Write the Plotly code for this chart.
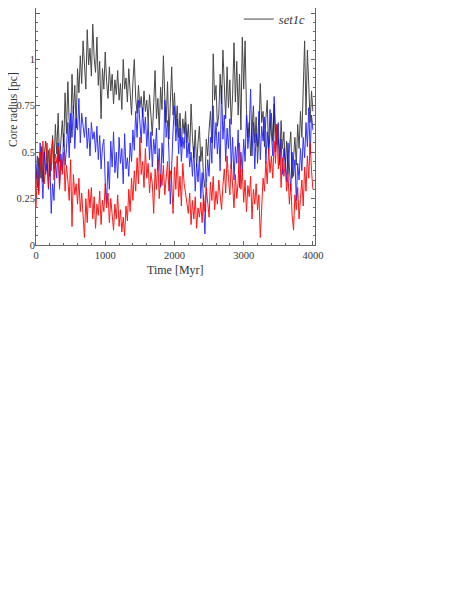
"""
Core radius evolution -- three runs over 4 Gyr.
"""
import plotly.graph_objects as go

time_myr = list(range(0, 4020, 20))

black_rc = [
    0.40, 0.31, 0.47, 0.36, 0.53, 0.34, 0.49, 0.56, 0.40, 0.51,
    0.37, 0.47, 0.59, 0.41, 0.65, 0.49, 0.71, 0.45, 0.57, 0.67,
    0.53, 0.82, 0.60, 0.88, 0.66, 0.55, 0.92, 0.71, 0.86, 0.63,
    0.95, 0.82, 1.02, 0.87, 1.10, 0.93, 0.84, 1.16, 0.97, 1.06,
    0.91, 1.19, 1.01, 0.93, 1.12, 0.86, 0.99, 0.68, 0.95, 0.84,
    1.04, 0.88, 0.79, 0.96, 0.83, 0.92, 0.76, 0.89, 0.81, 0.94,
    0.78, 0.87, 0.73, 1.00, 0.84, 0.90, 0.77, 0.95, 0.82, 0.70,
    0.88, 1.00, 0.79, 0.71, 0.86, 0.74, 0.80, 0.69, 0.83, 0.72,
    0.78, 0.66, 0.81, 0.70, 0.59, 0.76, 0.94, 0.68, 0.79, 0.62,
    0.85, 0.73, 1.02, 0.80, 0.66, 0.88, 0.57, 0.76, 0.96, 0.70,
    0.82, 0.64, 0.75, 0.58, 0.71, 0.53, 0.68, 0.60, 0.72, 0.55,
    0.65, 0.49, 0.76, 0.58, 0.47, 0.62, 0.42, 0.55, 0.64, 0.45,
    0.53, 0.36, 0.31, 0.57, 0.48, 0.62, 0.72, 0.55, 1.03, 0.78,
    0.86, 0.64, 0.70, 0.92, 0.76, 1.05, 0.83, 0.68, 0.96, 0.74,
    0.89, 0.65, 0.81, 1.09, 0.77, 0.99, 0.70, 0.92, 0.62, 1.12,
    0.84, 1.10, 0.73, 0.58, 0.66, 0.48, 0.62, 0.75, 0.55, 0.69,
    0.44, 0.60, 0.87, 0.66, 0.72, 0.53, 0.68, 0.78, 0.49, 0.63,
    0.71, 0.56, 0.76, 0.50, 0.65, 0.58, 0.45, 0.67, 0.52, 0.61,
    0.42, 0.56, 0.38, 0.52, 0.61, 0.36, 0.48, 0.58, 0.43, 0.65,
    0.52, 0.72, 0.58, 0.80, 1.10, 0.70, 1.05, 0.86, 0.66, 0.83,
    0.72,
]

blue_rc = [
    0.36, 0.48, 0.29, 0.55, 0.41, 0.25, 0.50, 0.38, 0.44, 0.30,
    0.46, 0.17, 0.33, 0.24, 0.45, 0.36, 0.55, 0.32, 0.49, 0.40,
    0.60, 0.43, 0.52, 0.66, 0.47, 0.71, 0.58, 0.75, 0.52, 0.68,
    0.62, 0.79, 0.55, 0.71, 0.64, 0.58, 0.69, 0.52, 0.63, 0.48,
    0.66, 0.57, 0.61, 0.50, 0.64, 0.46, 0.59, 0.41, 0.53, 0.57,
    0.34, 0.22, 0.45, 0.30, 0.56, 0.42, 0.61, 0.39, 0.50, 0.36,
    0.58, 0.44, 0.52, 0.33, 0.60, 0.41, 0.47, 0.37, 0.55, 0.45,
    0.62, 0.51, 0.72, 0.58, 0.78, 0.64, 0.55, 0.74, 0.60, 0.69,
    0.53, 0.66, 0.46, 0.61, 0.42, 0.57, 0.49, 0.63, 0.40, 0.52,
    0.31, 0.55, 0.44, 0.78, 0.58, 0.67, 0.50, 0.22, 0.46, 0.62,
    0.75, 0.56, 0.68, 0.49, 0.63, 0.45, 0.58, 0.52, 0.66, 0.47,
    0.55, 0.42, 0.50, 0.37, 0.53, 0.29, 0.44, 0.34, 0.48, 0.25,
    0.39, 0.18, 0.06, 0.33, 0.46, 0.37, 0.58, 0.44, 0.75, 0.52,
    0.66, 0.49, 0.61, 0.40, 0.86, 0.57, 0.70, 0.45, 0.63, 0.52,
    0.68, 0.41, 0.58, 0.35, 0.53, 0.44, 0.62, 0.31, 0.50, 0.39,
    0.57, 0.45, 0.70, 0.52, 0.62, 0.84, 0.48, 0.66, 0.41, 0.60,
    0.53, 0.72, 0.46, 0.64, 0.56, 0.69, 0.44, 0.61, 0.51, 0.73,
    0.58, 0.48, 0.80, 0.62, 0.54, 0.66, 0.43, 0.57, 0.38, 0.52,
    0.45, 0.34, 0.55, 0.41, 0.29, 0.50, 0.37, 0.46, 0.24, 0.44,
    0.35, 0.52, 0.40, 0.58, 0.47, 0.66, 0.53, 0.74, 0.49, 0.70,
    0.62,
]

red_rc = [
    0.20, 0.41, 0.27, 0.50, 0.36, 0.56, 0.33, 0.47, 0.55, 0.31,
    0.52, 0.40, 0.57, 0.35, 0.49, 0.44, 0.53, 0.30, 0.46, 0.38,
    0.50, 0.29, 0.43, 0.35, 0.24, 0.46, 0.10, 0.38, 0.27, 0.33,
    0.22, 0.36, 0.18, 0.28, 0.15, 0.04, 0.25, 0.12, 0.30, 0.20,
    0.31, 0.14, 0.26, 0.09, 0.22, 0.16, 0.29, 0.11, 0.24, 0.18,
    0.33, 0.20, 0.28, 0.12, 0.25, 0.17, 0.08, 0.22, 0.14, 0.27,
    0.10, 0.19, 0.07, 0.15, 0.05, 0.21, 0.13, 0.30, 0.18, 0.36,
    0.24, 0.40, 0.29, 0.47, 0.33, 0.58, 0.38, 0.45, 0.31, 0.52,
    0.36, 0.44, 0.28, 0.39, 0.33, 0.17, 0.41, 0.30, 0.46, 0.25,
    0.38, 0.32, 0.43, 0.27, 0.36, 0.45, 0.29, 0.40, 0.34, 0.17,
    0.42, 0.30, 0.48, 0.26, 0.37, 0.21, 0.44, 0.33, 0.28, 0.22,
    0.17, 0.28, 0.11, 0.24, 0.14, 0.26, 0.09, 0.20, 0.15, 0.23,
    0.12, 0.27, 0.18, 0.31, 0.21, 0.15, 0.34, 0.24, 0.37, 0.19,
    0.29, 0.22, 0.35, 0.26, 0.19, 0.32, 0.41, 0.28, 0.48, 0.36,
    0.27, 0.44, 0.31, 0.20, 0.38, 0.25, 0.34, 0.55, 0.30, 0.41,
    0.23, 0.35, 0.18, 0.32, 0.26, 0.37, 0.14, 0.30, 0.22, 0.33,
    0.19, 0.27, 0.04, 0.24, 0.36, 0.29, 0.45, 0.33, 0.52, 0.39,
    0.48, 0.36, 0.56, 0.44, 0.65, 0.41, 0.53, 0.31, 0.47, 0.37,
    0.44, 0.29, 0.38, 0.22, 0.33, 0.16, 0.08, 0.27, 0.19, 0.31,
    0.14, 0.25, 0.35, 0.21, 0.42, 0.29, 0.48, 0.36, 0.55, 0.40,
    0.30,
]

FONT = "Liberation Serif"
AXIS_COL = "#666666"
TEXT_COL = "#333333"

fig = go.Figure()
fig.add_trace(go.Scatter(
    x=time_myr, y=black_rc, mode="lines", name="set1c",
    line=dict(color="black", width=1), opacity=0.72,
))
fig.add_trace(go.Scatter(
    x=time_myr, y=blue_rc, mode="lines", name="blue", showlegend=False,
    line=dict(color="#0000ff", width=1), opacity=0.8,
))
fig.add_trace(go.Scatter(
    x=time_myr, y=red_rc, mode="lines", name="red", showlegend=False,
    line=dict(color="#ff0000", width=1), opacity=0.9,
))

axis_common = dict(
    showline=True, linecolor=AXIS_COL, linewidth=1,
    ticks="inside", ticklen=4, tickcolor=AXIS_COL,
    showgrid=False, zeroline=False,
    tickfont=dict(family=FONT, size=10.5, color=TEXT_COL),
)

# top edge is cropped in the reference, so no mirrored x axis
fig.update_xaxes(
    range=[0, 4030], dtick=1000, tick0=0, mirror=False,
    minor=dict(dtick=200, ticks="inside", ticklen=2, tickcolor=AXIS_COL),
    **axis_common,
)
fig.update_yaxes(
    range=[0, 1.277], dtick=0.25, tick0=0, mirror="ticks",
    ticklabelstandoff=-2,
    minor=dict(dtick=0.05, ticks="inside", ticklen=2, tickcolor=AXIS_COL),
    **axis_common,
)

fig.add_annotation(
    text="Core radius [pc]", xref="paper", yref="paper",
    x=0, y=1, xanchor="center", yanchor="middle",
    xshift=-23, yshift=-102, textangle=-90, showarrow=False,
    font=dict(family=FONT, size=11.5, color=TEXT_COL),
)
fig.add_annotation(
    text="Time [Myr]", xref="paper", yref="paper",
    x=0.5, y=0, xanchor="center", yanchor="middle",
    yshift=-25, showarrow=False,
    font=dict(family=FONT, size=12, color=TEXT_COL),
)

fig.update_layout(
    width=450, height=584,
    paper_bgcolor="white", plot_bgcolor="white",
    margin=dict(l=28, r=143, t=0, b=347, autoexpand=False),
    legend=dict(
        x=0.985, y=1.015, xanchor="right", yanchor="top",
        bgcolor="rgba(0,0,0,0)", borderwidth=0,
        font=dict(family=FONT, size=12.5, color=TEXT_COL, style="italic"),
    ),
)

fig.write_html("out.html")
